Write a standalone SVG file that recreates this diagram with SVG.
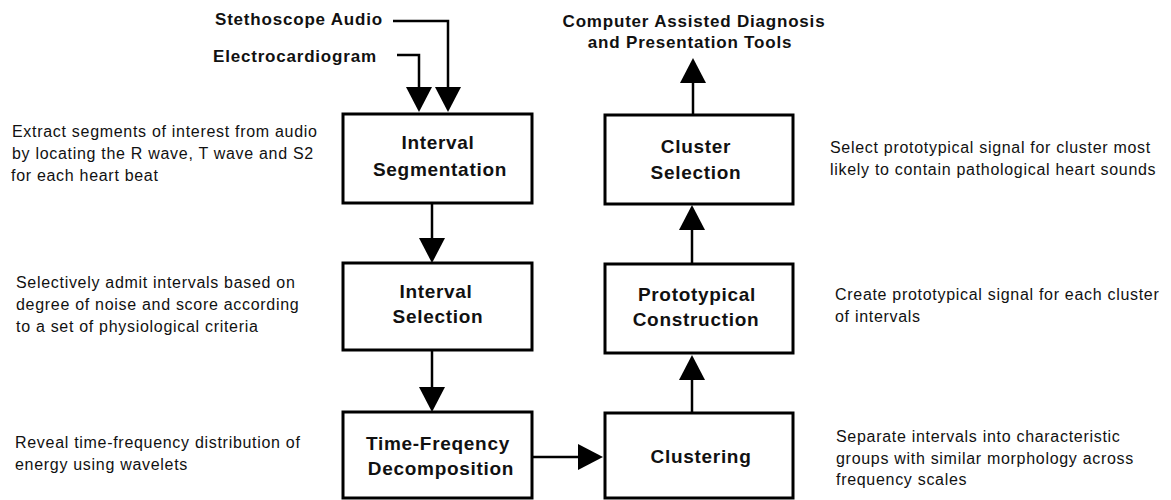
<svg xmlns="http://www.w3.org/2000/svg" width="1171" height="500" viewBox="0 0 1171 500">
<style>
.box{fill:#fff;stroke:#000;stroke-width:3}
.bt{font-family:"Liberation Sans",Arial,sans-serif;font-weight:bold;font-size:19px;letter-spacing:0.7px;text-anchor:middle;fill:#111}
.lt{font-family:"Liberation Sans",Arial,sans-serif;font-weight:bold;font-size:17px;letter-spacing:0.8px;fill:#111}
.ct{text-anchor:middle}
.dt{font-family:"Liberation Sans",Arial,sans-serif;font-size:16px;letter-spacing:0.7px;fill:#111}
.cn{fill:none;stroke:#000;stroke-width:2.5}
</style>
<defs>
<marker id="ah" markerUnits="userSpaceOnUse" markerWidth="26" markerHeight="26" refX="0" refY="13" orient="auto" viewBox="0 0 26 26">
<path d="M0,0 L25,13 L0,26 Z" fill="#000"/>
</marker>
</defs>
<rect width="1171" height="500" fill="#fff"/>
<g id="connectors">
<polyline class="cn" points="393,21 448,21 448,87" marker-end="url(#ah)"/>
<polyline class="cn" points="397,55 419,55 419,87" marker-end="url(#ah)"/>
<line class="cn" x1="432" y1="203" x2="432" y2="238" marker-end="url(#ah)"/>
<line class="cn" x1="432" y1="350" x2="432" y2="387" marker-end="url(#ah)"/>
<line class="cn" x1="532" y1="457" x2="578" y2="457" marker-end="url(#ah)"/>
<line class="cn" x1="692" y1="413" x2="692" y2="380" marker-end="url(#ah)"/>
<line class="cn" x1="692" y1="264" x2="692" y2="230" marker-end="url(#ah)"/>
<line class="cn" x1="693" y1="114" x2="693" y2="83" marker-end="url(#ah)"/>
</g>
<g id="in-stethoscope"><text class="lt" x="215" y="25">Stethoscope Audio</text></g>
<g id="in-ecg"><text class="lt" x="213" y="62">Electrocardiogram</text></g>
<g id="out-cad"><text class="lt ct" x="694" y="27">Computer Assisted Diagnosis</text><text class="lt ct" x="690" y="48">and Presentation Tools</text></g>
<g id="interval-segmentation">
<rect class="box" x="343" y="114" width="189" height="89"/>
<text class="bt" x="438" y="149">Interval</text><text class="bt" x="440" y="176">Segmentation</text>
</g>
<g id="interval-selection">
<rect class="box" x="343" y="263" width="189" height="87"/>
<text class="bt" x="436" y="298">Interval</text><text class="bt" x="438" y="323">Selection</text>
</g>
<g id="time-frequency">
<rect class="box" x="343" y="412" width="189" height="86"/>
<text class="bt" x="438" y="450">Time-Freqency</text><text class="bt" x="441" y="475">Decomposition</text>
</g>
<g id="cluster-selection">
<rect class="box" x="605" y="115" width="188" height="89"/>
<text class="bt" x="696" y="153">Cluster</text><text class="bt" x="696" y="179">Selection</text>
</g>
<g id="prototypical">
<rect class="box" x="605" y="264" width="188" height="89"/>
<text class="bt" x="697" y="301">Prototypical</text><text class="bt" x="696" y="326">Construction</text>
</g>
<g id="clustering">
<rect class="box" x="605" y="413" width="188" height="85"/>
<text class="bt" x="701" y="463">Clustering</text>
</g>
<g id="desc-segmentation">
<text class="dt" x="12" y="137">Extract segments of interest from audio</text>
<text class="dt" x="12" y="159">by locating the R wave, T wave and S2</text>
<text class="dt" x="11" y="181">for each heart beat</text>
</g>
<g id="desc-selection">
<text class="dt" x="16" y="288">Selectively admit intervals based on</text>
<text class="dt" x="16" y="310">degree of noise and score according</text>
<text class="dt" x="16" y="332">to a set of physiological criteria</text>
</g>
<g id="desc-tf">
<text class="dt" x="15" y="448">Reveal time-frequency distribution of</text>
<text class="dt" x="15" y="470">energy using wavelets</text>
</g>
<g id="desc-cluster-selection">
<text class="dt" x="830" y="153">Select prototypical signal for cluster most</text>
<text class="dt" x="830" y="175">likely to contain pathological heart sounds</text>
</g>
<g id="desc-prototypical">
<text class="dt" x="835" y="300">Create prototypical signal for each cluster</text>
<text class="dt" x="835" y="322">of intervals</text>
</g>
<g id="desc-clustering">
<text class="dt" x="836" y="442">Separate intervals into characteristic</text>
<text class="dt" x="836" y="464">groups with similar morphology across</text>
<text class="dt" x="836" y="485">frequency scales</text>
</g>
</svg>
